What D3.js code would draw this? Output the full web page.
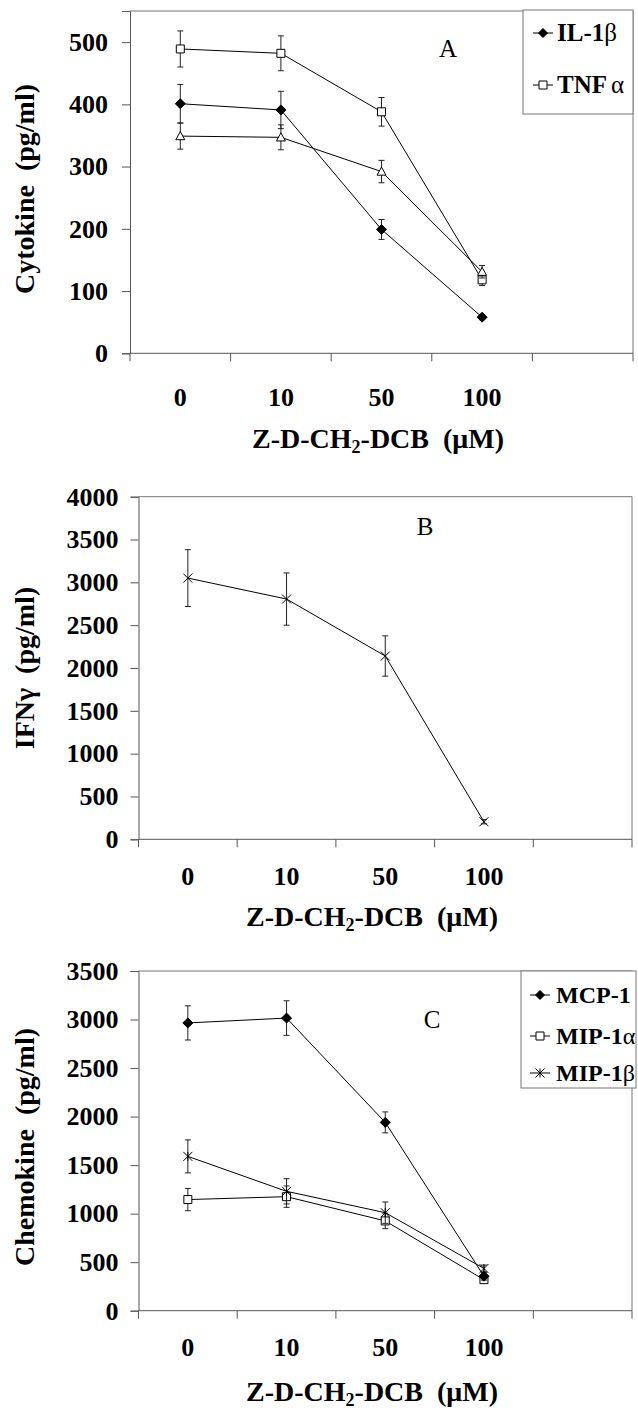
<!DOCTYPE html>
<html>
<head>
<meta charset="utf-8">
<script src="https://cdn.jsdelivr.net/npm/d3@7"></script>
<style>
  html, body { margin: 0; padding: 0; background: #fff; }
  svg { display: block; }
  text { font-family: "Liberation Serif", "Times New Roman", serif; fill: #000; }
</style>
</head>
<body>
<svg id="chart" width="638" height="1411"></svg>
<script>
// ---------- data ----------
const doses = ["0", "10", "50", "100"];
const slots = ["0", "10", "50", "100", "blank"];

// Panel A (pg/ml)
const il1b = [401, 391, 199, 58];
const il1bErr = [31, 30, 16, 4];
const tnfa = [489, 482, 388, 118];
const tnfaErr = [29, 28, 23, 9];
const triA = [349, 347, 292, 131];
const triAErr = [21, 20, 18, 10];
const ticksA = [0, 100, 200, 300, 400, 500];

// Panel B (pg/ml)
const ifng = [3050, 2805, 2140, 205];
const ifngErr = [332, 305, 235, 25];
const ticksB = [0, 500, 1000, 1500, 2000, 2500, 3000, 3500, 4000];

// Panel C (pg/ml)
const mcp1 = [2965, 3015, 1940, 355];
const mcp1Err = [176, 178, 108, 40];
const mip1a = [1145, 1175, 925, 320];
const mip1aErr = [115, 110, 80, 30];
const mip1b = [1590, 1230, 1010, 435];
const mip1bErr = [170, 130, 110, 35];
const ticksC = [0, 500, 1000, 1500, 2000, 2500, 3000, 3500];

// ---------- drawing ----------
const svg = d3.select("#chart");
const AXIS = "#555";
const FRAME = "#777";

function markerPath(type, size) {
  const s = size / 2;
  if (type === "diamond") return `M0,${-s}L${s},0L0,${s}L${-s},0Z`;
  if (type === "square") return `M${-s},${-s}H${s}V${s}H${-s}Z`;
  if (type === "triangle") return `M0,${-s}L${s},${s * 0.8}L${-s},${s * 0.8}Z`;
  if (type === "star") return `M${-s},${-s}L${s},${s}M${-s},${s}L${s},${-s}M0,${-s}V${s}`;
  if (type === "cross") return `M${-s},${-s}L${s},${s}M${-s},${s}L${s},${-s}`;
}
function drawMarker(g, type, x, y, size) {
  const filled = type === "diamond";
  const open = type === "square" || type === "triangle";
  g.append("path")
    .attr("transform", `translate(${x},${y})`)
    .attr("d", markerPath(type, size))
    .attr("fill", filled ? "#000" : (open ? "#fff" : "none"))
    .attr("stroke", "#000")
    .attr("stroke-width", 1);
}

function panel(cfg) {
  const g = svg.append("g");
  const x = d3.scaleBand().domain(slots).range([cfg.left, cfg.right]).padding(0);
  const y = d3.scaleLinear().domain([0, cfg.ymax]).range([cfg.bottom, cfg.top]);
  const cx = d => x(d) + x.bandwidth() / 2;

  // frame (top + right)
  g.append("path")
    .attr("d", `M${cfg.left},${cfg.top}H${cfg.right}V${cfg.bottom}`)
    .attr("fill", "none").attr("stroke", FRAME).attr("stroke-width", 1);

  // y axis
  const ya = g.append("g").attr("transform", `translate(${cfg.left},0)`)
    .call(d3.axisLeft(y).tickValues(cfg.ticks).tickSize(8).tickPadding(cfg.tickPad).tickFormat(d3.format("d")));
  ya.select(".domain").attr("stroke", AXIS);
  ya.selectAll(".tick line").attr("stroke", AXIS);
  ya.selectAll(".tick text")
    .attr("font-family", "Liberation Serif, Times New Roman, serif")
    .attr("font-size", 26).attr("font-weight", "bold").attr("fill", "#000");

  // x axis: line + ticks at band boundaries
  const bounds = slots.map(s => x(s)).concat([cfg.right]);
  g.append("line").attr("x1", cfg.left).attr("x2", cfg.right)
    .attr("y1", cfg.bottom).attr("y2", cfg.bottom).attr("stroke", AXIS);
  g.selectAll(null).data(bounds).join("line")
    .attr("x1", d => d).attr("x2", d => d)
    .attr("y1", cfg.bottom).attr("y2", cfg.bottom + 8).attr("stroke", AXIS);
  g.selectAll(null).data(doses).join("text")
    .attr("x", d => cx(d)).attr("y", cfg.bottom + cfg.xLabOff)
    .attr("text-anchor", "middle").attr("font-size", 26).attr("font-weight", "bold")
    .text(d => d);

  // x title
  const xt = g.append("text")
    .attr("x", cfg.xTitleX).attr("y", cfg.bottom + cfg.xTitleOff)
    .attr("text-anchor", "middle").attr("font-size", 28).attr("font-weight", "bold");
  xt.append("tspan").text("Z-D-CH");
  xt.append("tspan").attr("font-size", 18).attr("dy", 5).text("2");
  xt.append("tspan").attr("dy", -5).text("-DCB\u00a0\u00a0(\u03bcM)");

  // y title
  g.append("text")
    .attr("transform", `translate(34,${cfg.yTitleY}) rotate(-90)`)
    .attr("text-anchor", "middle").attr("font-size", 28).attr("font-weight", "bold")
    .text(cfg.yTitle);

  // panel letter
  g.append("text").attr("x", cfg.letterX).attr("y", cfg.letterY)
    .attr("text-anchor", "middle").attr("font-size", 25).text(cfg.letter);

  // series
  cfg.series.forEach(s => {
    const pts = doses.map((d, i) => ({ x: cx(d), v: s.values[i], e: s.err[i] }));
    g.append("path")
      .attr("d", d3.line().x(p => p.x).y(p => y(p.v))(pts))
      .attr("fill", "none").attr("stroke", "#000").attr("stroke-width", 1);
    pts.forEach(p => {
      const y1 = y(p.v + p.e), y2 = y(p.v - p.e);
      g.append("path")
        .attr("d", `M${p.x},${y1}V${y2}M${p.x - 3},${y1}H${p.x + 3}M${p.x - 3},${y2}H${p.x + 3}`)
        .attr("fill", "none").attr("stroke", "#222").attr("stroke-width", 1);
    });
    pts.forEach(p => drawMarker(g, s.marker, p.x, y(p.v), s.size));
  });

  // legend
  if (cfg.legend) {
    const L = cfg.legend;
    g.append("rect").attr("x", L.x).attr("y", L.y).attr("width", L.w).attr("height", L.h)
      .attr("fill", "#fff").attr("stroke", FRAME).attr("stroke-width", 1);
    L.items.forEach((it, i) => {
      const yy = L.rows[i];
      g.append("line").attr("x1", L.mx - 10).attr("x2", L.mx + 10)
        .attr("y1", yy).attr("y2", yy).attr("stroke", "#000");
      drawMarker(g, it.marker, L.mx, yy, it.size);
      const t = g.append("text").attr("x", L.tx).attr("y", yy + 8)
        .attr("font-size", L.fs).attr("font-weight", "bold");
      t.append("tspan").text(it.name);
      t.append("tspan").attr("font-weight", "normal").attr("dx", it.gap).text(it.greek);
    });
  }
}

panel({
  left: 130, right: 633, top: 11, bottom: 353.3, ymax: 550, ticks: ticksA, tickPad: 14,
  xLabOff: 53, xTitleOff: 95, xTitleX: 378, yTitleY: 189,
  yTitle: "Cytokine\u00a0\u00a0(pg/ml)", letter: "A", letterX: 448, letterY: 57,
  series: [
    { values: tnfa, err: tnfaErr, marker: "square", size: 8 },
    { values: triA, err: triAErr, marker: "triangle", size: 9 },
    { values: il1b, err: il1bErr, marker: "diamond", size: 10 }
  ],
  legend: {
    x: 523, y: 10, w: 110, h: 104, mx: 543, tx: 557, fs: 25, rows: [33, 85],
    items: [
      { name: "IL-1", greek: "\u03b2", marker: "diamond", size: 9, gap: 0 },
      { name: "TNF", greek: "\u03b1", marker: "square", size: 8, gap: 4 }
    ]
  }
});

panel({
  left: 138.5, right: 632, top: 496.7, bottom: 839.3, ymax: 4000, ticks: ticksB, tickPad: 12,
  xLabOff: 46, xTitleOff: 87, xTitleX: 372, yTitleY: 668,
  yTitle: "IFN\u03b3\u00a0\u00a0(pg/ml)", letter: "B", letterX: 425, letterY: 535,
  series: [
    { values: ifng, err: ifngErr, marker: "cross", size: 9 }
  ]
});

panel({
  left: 138.5, right: 632, top: 971, bottom: 1310.7, ymax: 3500, ticks: ticksC, tickPad: 12,
  xLabOff: 45, xTitleOff: 90, xTitleX: 372, yTitleY: 1147,
  yTitle: "Chemokine\u00a0\u00a0(pg/ml)", letter: "C", letterX: 432, letterY: 1028,
  series: [
    { values: mip1a, err: mip1aErr, marker: "square", size: 8 },
    { values: mip1b, err: mip1bErr, marker: "star", size: 9 },
    { values: mcp1, err: mcp1Err, marker: "diamond", size: 10 }
  ],
  legend: {
    x: 521, y: 971, w: 115, h: 117, mx: 540, tx: 556, fs: 24, rows: [995, 1036, 1073],
    items: [
      { name: "MCP-1", greek: "", marker: "diamond", size: 9, gap: 0 },
      { name: "MIP-1", greek: "\u03b1", marker: "square", size: 8, gap: 0 },
      { name: "MIP-1", greek: "\u03b2", marker: "star", size: 9, gap: 0 }
    ]
  }
});
</script>
</body>
</html>
